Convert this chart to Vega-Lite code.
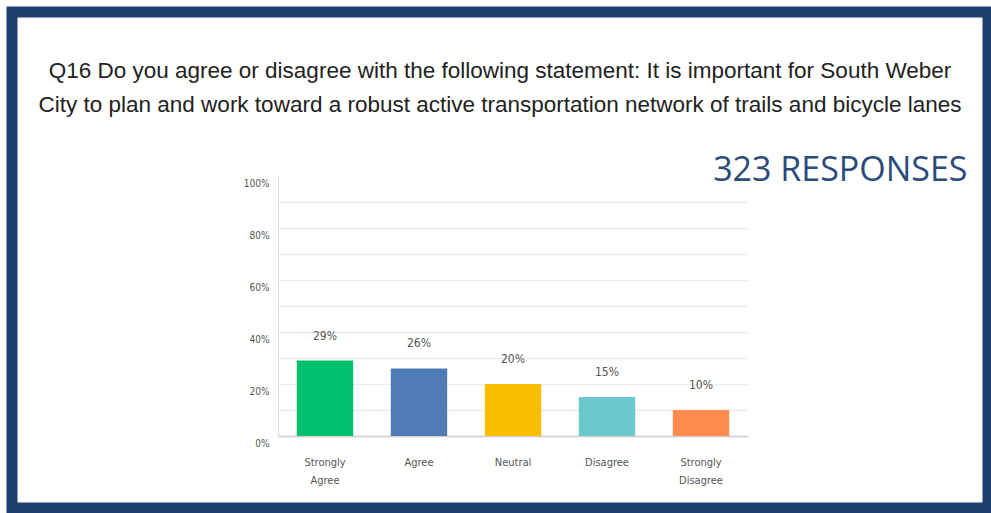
{
  "$schema": "https://vega.github.io/schema/vega-lite/v6.json",
  "width": 991,
  "height": 513,
  "autosize": {"type": "fit", "contains": "padding"},
  "padding": {"left": 12, "top": 12, "right": 3, "bottom": 5},
  "background": "white",
  "config": {"view": {"fill": "white", "stroke": "#1c3f6e", "strokeWidth": 11}},
  "title": {
    "text": ["Q16 Do you agree or disagree with the following statement: It is important for South Weber", "City to plan and work toward a robust active transportation network of trails and bicycle lanes"],
    "frame": "group",
    "anchor": "middle",
    "offset": -104,
    "lineHeight": 34,
    "font": "Liberation Sans",
    "fontSize": 22.5,
    "fontWeight": "normal",
    "color": "#222222"
  },
  "data": {
    "values": [
      {"response": "Strongly Agree", "pct": 0.29},
      {"response": "Agree", "pct": 0.26},
      {"response": "Neutral", "pct": 0.20},
      {"response": "Disagree", "pct": 0.15},
      {"response": "Strongly Disagree", "pct": 0.10}
    ]
  },
  "encoding": {
    "x": {
      "field": "response",
      "type": "nominal",
      "sort": null,
      "scale": {"range": [266, 736], "paddingInner": 0.4, "paddingOuter": 0.2},
      "axis": {
        "title": "323 RESPONSES",
        "titleX": 955,
        "titleY": -266,
        "titleAlign": "right",
        "titleBaseline": "middle",
        "titleAngle": 0,
        "titleFont": "Open Sans",
        "titleFontSize": 34,
        "titleFontWeight": "normal",
        "titleColor": "#2b4c7a",
        "offset": -72,
        "labelAngle": 0,
        "labelExpr": "split(datum.label, ' ')",
        "labelLineHeight": 18,
        "labelPadding": 20,
        "labelFont": "DejaVu Sans Condensed, Liberation Sans",
        "labelFontSize": 11,
        "labelColor": "#555555",
        "ticks": false,
        "domainColor": "#cfcfcf",
        "domainWidth": 1.5
      }
    },
    "y": {
      "field": "pct",
      "type": "quantitative",
      "scale": {"domain": [0, 1], "range": [424, 164]},
      "axis": {
        "title": null,
        "offset": -266,
        "values": [0, 0.1, 0.2, 0.3, 0.4, 0.5, 0.6, 0.7, 0.8, 0.9, 1],
        "format": ".0%",
        "labelExpr": "round(datum.value * 100) % 20 === 0 ? datum.label : ''",
        "labelPadding": 9,
        "labelOffset": 7,
        "labelFont": "DejaVu Sans Condensed, Liberation Sans",
        "labelFontSize": 10,
        "labelColor": "#555555",
        "ticks": false,
        "domainColor": "#e2e2e2",
        "grid": true,
        "gridColor": {"condition": {"test": "datum.value > 0.95", "value": "transparent"}, "value": "#ececec"},
        "gridWidth": 1.5
      }
    }
  },
  "layer": [
    {
      "mark": {"type": "bar"},
      "encoding": {
        "color": {
          "field": "response",
          "type": "nominal",
          "scale": {
            "domain": ["Strongly Agree", "Agree", "Neutral", "Disagree", "Strongly Disagree"],
            "range": ["#00bf6f", "#507cb6", "#f9be00", "#6bc8cd", "#ff8b4f"]
          },
          "legend": null
        }
      }
    },
    {
      "mark": {
        "type": "text",
        "dy": -25,
        "baseline": "middle",
        "font": "DejaVu Sans Condensed, Liberation Sans",
        "fontSize": 12,
        "color": "#555555"
      },
      "encoding": {
        "text": {"field": "pct", "type": "quantitative", "format": ".0%"}
      }
    }
  ]
}
